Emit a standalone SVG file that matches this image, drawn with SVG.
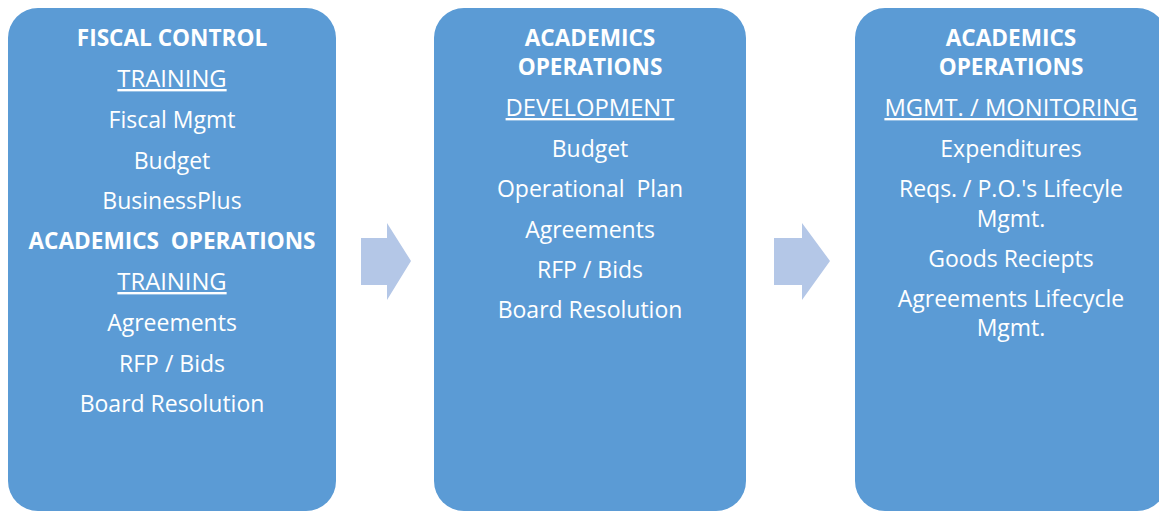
<svg xmlns="http://www.w3.org/2000/svg" width="1159" height="512" viewBox="0 0 1159 512">
<style>
.box{fill:#5B9BD5}
.arrow{fill:#B4C7E7}
text{font-family:"Open Sans","Liberation Sans",sans-serif;font-size:23px;fill:#FFFFFF;text-anchor:middle}
.b{font-weight:bold;font-size:22.6px}
.u{text-decoration:underline;font-size:23.8px}
.pre{white-space:pre}
</style>
<rect width="1159" height="512" fill="#FFFFFF"/>
<g id="connectors">
<polygon class="arrow" points="361,238 387,238 387,223 411,261 387,300 387,285 361,285"/>
<polygon class="arrow" points="774,238 802,238 802,223 830,261 802,300 802,285 774,285"/>
</g>
<g id="node-fiscal-control">
<rect class="box" x="8" y="8" width="328" height="503" rx="30" ry="30"/>
<text class="b" x="172" y="46">FISCAL CONTROL</text>
<text class="u" x="172" y="87">TRAINING</text>
<text x="172" y="128">Fiscal Mgmt</text>
<text x="172" y="169">Budget</text>
<text x="172" y="209">BusinessPlus</text>
<text class="b pre" x="172" y="249" xml:space="preserve">ACADEMICS  OPERATIONS</text>
<text class="u" x="172" y="290">TRAINING</text>
<text x="172" y="331">Agreements</text>
<text x="172" y="372">RFP / Bids</text>
<text x="172" y="412">Board Resolution</text>
</g>
<g id="node-development">
<rect class="box" x="434" y="8" width="312" height="503" rx="30" ry="30"/>
<text class="b" x="590" y="46">ACADEMICS</text>
<text class="b" x="590" y="75">OPERATIONS</text>
<text class="u" x="590" y="116">DEVELOPMENT</text>
<text x="590" y="157">Budget</text>
<text class="pre" x="590" y="197" xml:space="preserve">Operational  Plan</text>
<text x="590" y="238">Agreements</text>
<text x="590" y="278">RFP / Bids</text>
<text x="590" y="318">Board Resolution</text>
</g>
<g id="node-monitoring">
<rect class="box" x="855" y="8" width="312" height="503" rx="30" ry="30"/>
<text class="b" x="1011" y="46">ACADEMICS</text>
<text class="b" x="1011" y="75">OPERATIONS</text>
<text class="u" x="1011" y="116">MGMT. / MONITORING</text>
<text x="1011" y="157">Expenditures</text>
<text x="1011" y="197">Reqs. / P.O.'s Lifecyle</text>
<text x="1011" y="227">Mgmt.</text>
<text x="1011" y="267">Goods Reciepts</text>
<text x="1011" y="307">Agreements Lifecycle</text>
<text x="1011" y="336">Mgmt.</text>
</g>
</svg>
